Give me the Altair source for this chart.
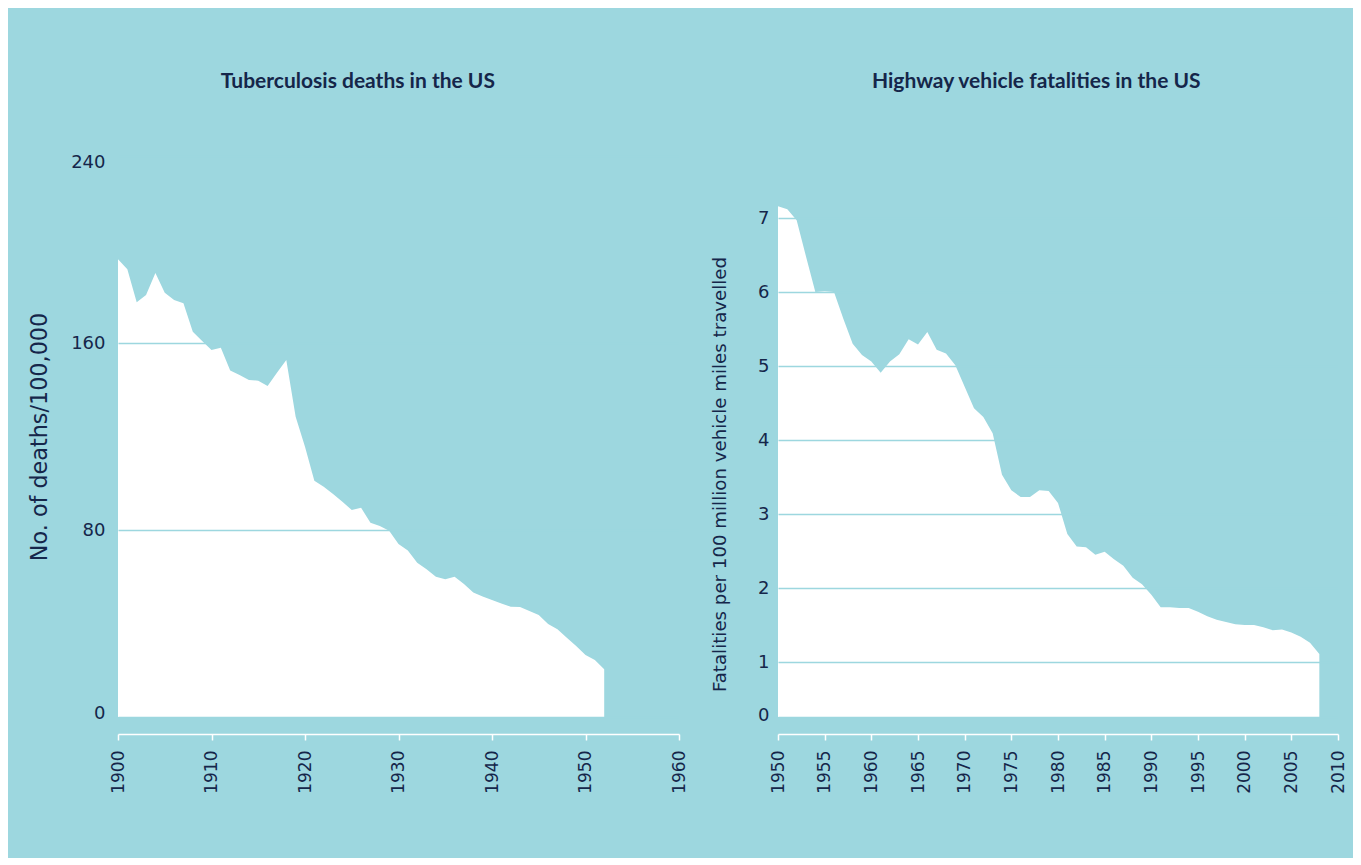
import altair as alt
import pandas as pd

# Tuberculosis deaths per 100,000 in the US
tb_years = list(range(1900, 1953))
tb_deaths = [195.8, 191.5, 177.4, 180.5, 190.0, 181.5, 178.4, 177.0, 164.8, 160.9,
             157.0, 158.0, 148.2, 146.3, 144.2, 143.9, 141.6, 147.3, 152.7, 128.5,
             115.6, 101.1, 98.5, 95.4, 92.1, 88.6, 89.5, 83.1, 81.7, 79.7,
             74.0, 71.2, 66.0, 63.2, 60.0, 58.9, 60.0, 56.9, 53.3, 51.5,
             50.1, 48.6, 47.2, 47.1, 45.3, 43.6, 39.8, 37.5, 33.9, 30.4,
             26.5, 24.4, 20.4]

# Highway vehicle fatalities per 100 million vehicle miles travelled
hw_years = list(range(1950, 2009))
hw_rate = [7.16, 7.12, 6.97, 6.48, 6.00, 6.01, 6.00, 5.64, 5.30, 5.15,
           5.06, 4.91, 5.06, 5.16, 5.36, 5.29, 5.46, 5.22, 5.17, 5.01,
           4.72, 4.43, 4.31, 4.09, 3.53, 3.32, 3.23, 3.23, 3.32, 3.31,
           3.15, 2.73, 2.56, 2.55, 2.45, 2.49, 2.39, 2.30, 2.14, 2.05,
           1.91, 1.74, 1.74, 1.73, 1.73, 1.68, 1.62, 1.57, 1.54, 1.51,
           1.50, 1.50, 1.47, 1.43, 1.44, 1.40, 1.34, 1.26, 1.11]

tb_ticks_x = list(range(1900, 1961, 10))
tb_ticks_y = [0, 80, 160, 240]
hw_ticks_x = list(range(1950, 2011, 5))
hw_ticks_y = [0.257, 1, 2, 3, 4, 5, 6, 7]

BG = "#9dd7df"
INK = "#15264a"
LABEL_FONT = "DejaVu Sans"

tb = pd.DataFrame({"year": tb_years, "deaths": tb_deaths})
hw = pd.DataFrame({"year": hw_years, "rate": hw_rate})

def x_axis(vals):
    return alt.Axis(values=vals, format="d", labelAngle=-90, offset=17, grid=False,
                    domainColor="white", domainWidth=1.5, tickColor="white", tickWidth=1.5,
                    tickSize=6, labelPadding=10, labelFont=LABEL_FONT, labelFontSize=17,
                    labelColor=INK, title=None)

left = alt.Chart(tb, title=alt.TitleParams("Tuberculosis deaths in the US", frame="bounds")).mark_area(
    color="white", opacity=1, clip=True
).encode(
    x=alt.X("year:Q", scale=alt.Scale(domain=[1900, 1960], nice=False, zero=False),
            axis=x_axis(tb_ticks_x)),
    y=alt.Y("deaths:Q", scale=alt.Scale(domain=[0, 240], nice=False),
            axis=alt.Axis(values=tb_ticks_y, format="d", grid=True, gridColor=BG, gridWidth=1.5,
                          domain=False, ticks=False, labelFlush=False, labelPadding=13,
                          labelOffset={"condition": [{"test": "datum.value >= 200", "value": 6},
                                                     {"test": "datum.value < 1", "value": -4}],
                                       "value": 0},
                          labelFont=LABEL_FONT, labelFontSize=18, labelColor=INK, zindex=1,
                          title="No. of deaths/100,000", titlePadding=19,
                          titleFont=LABEL_FONT, titleFontSize=22.3, titleFontWeight="normal",
                          titleColor=INK)),
).properties(width=561, height=561)

right = alt.Chart(hw, title=alt.TitleParams("Highway vehicle fatalities in the US", frame="bounds",
                                            dx=8, dy=-3)).mark_area(
    color="white", opacity=1, clip=True
).encode(
    x=alt.X("year:Q", scale=alt.Scale(domain=[1950, 2010], nice=False, zero=False),
            axis=x_axis(hw_ticks_x)),
    y=alt.Y("rate:Q", scale=alt.Scale(domain=[0.257, 7.838], nice=False, zero=False),
            axis=alt.Axis(values=hw_ticks_y, format=".0f", grid=True, gridColor=BG, gridWidth=1.5,
                          domain=False, ticks=False, labelFlush=False, labelPadding=9,
                          labelOffset={"condition": {"test": "datum.value < 0.5", "value": -2},
                                       "value": 0},
                          labelFont=LABEL_FONT, labelFontSize=18, labelColor=INK, zindex=1,
                          title="Fatalities per 100 million vehicle miles travelled",
                          titlePadding=28, titleY=318,
                          titleFont=LABEL_FONT, titleFontSize=18.2, titleFontWeight="normal",
                          titleColor=INK)),
).properties(width=560, height=561)

chart = alt.hconcat(left, right, spacing=23).properties(
    background=BG,
    padding={"left": 20, "top": 63, "right": 7, "bottom": 64},
).configure_view(stroke=None).configure_title(
    font="Lato", fontSize=21, fontWeight="bold", color=INK, offset=61, anchor="middle"
)

chart.save("out.html", embed_options={"renderer": "svg", "actions": False})
